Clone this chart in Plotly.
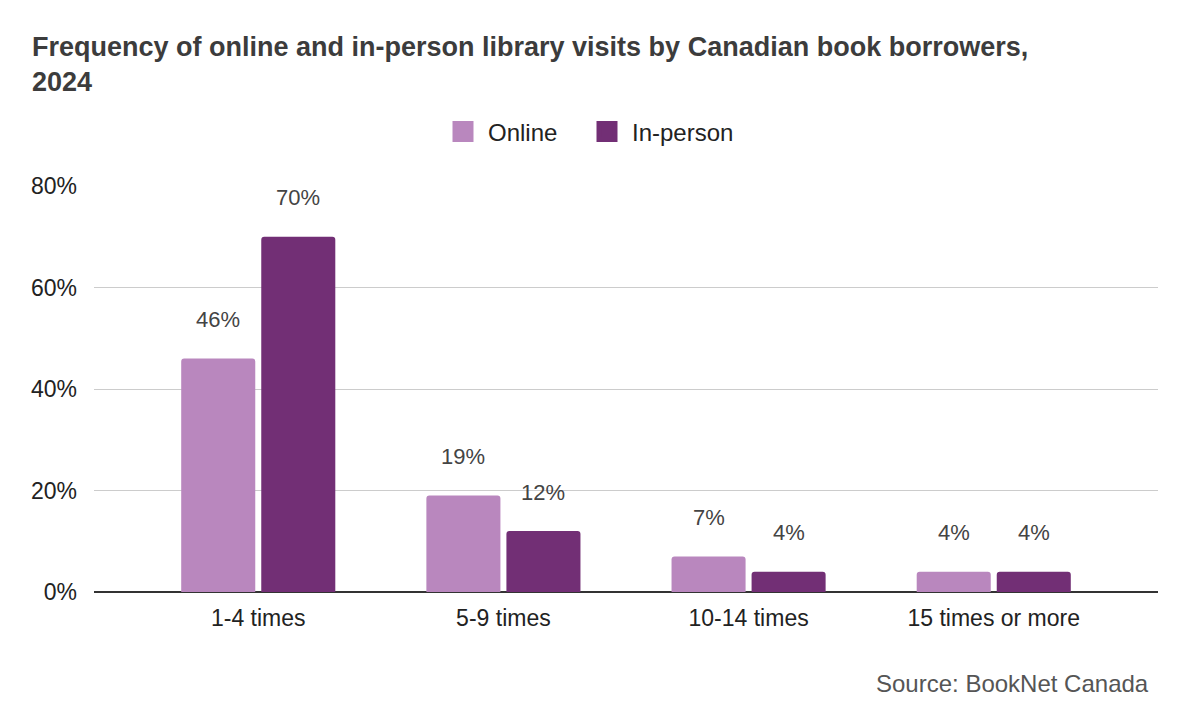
import plotly.graph_objects as go

categories = ['1-4 times', '5-9 times', '10-14 times', '15 times or more']
online = [46, 19, 7, 4]
in_person = [70, 12, 4, 4]

series = [
    ('Online', online, '#B987BE', -40, 'legend'),
    ('In-person', in_person, '#722F75', 40, 'legend2'),
]

legend_style = dict(
    orientation='h',
    xanchor='left',
    y=1.133, yanchor='middle',
    font=dict(size=24, color='#222222'),
    itemsizing='trace',
    itemwidth=40,
)

layout = go.Layout(
    paper_bgcolor='white',
    plot_bgcolor='white',
    width=1187,
    height=725,
    margin=dict(l=94, r=29, t=186, b=133),
    font=dict(family='Liberation Sans, Arial', size=23, color='#222222'),
    title=dict(
        text='<b>Frequency of online and in-person library visits by Canadian book borrowers,<br>2024</b>',
        x=32 / 1187, xref='container', xanchor='left',
        y=1 - 56 / 725, yref='container', yanchor='top',
        font=dict(size=27, color='#3c3c3c'),
    ),
    legend=dict(legend_style, x=(438 - 94) / 1064),
    legend2=dict(legend_style, x=(582 - 94) / 1064),
    barmode='group',
    bargap=0.347,
    bargroupgap=0.075,
    barcornerradius=3,
)

fig = go.Figure(layout=layout)

for name, vals, color, shift, leg in series:
    fig.add_trace(
        go.Bar(
            x=categories,
            y=vals,
            name=name,
            marker_color=color,
            marker_line_width=0,
            hovertext=[f'{v}%' for v in vals],
            hoverinfo='text',
            showlegend=False,
        )
    )
    # bigger square legend swatch than the bar default
    fig.add_trace(
        go.Scatter(
            x=[None], y=[None],
            mode='markers',
            name=name,
            legend=leg,
            marker=dict(symbol='square', size=16, color=color,
                        line=dict(color=color, width=6)),
            hoverinfo='skip',
        )
    )
    # value labels above the bars
    for cat, v in zip(categories, vals):
        fig.add_annotation(
            x=cat, y=v, text=f'{v}%',
            xshift=shift, yshift=39,
            showarrow=False,
            font=dict(size=22, color='#444444'),
        )

fig.add_annotation(
    text='Source: BookNet Canada',
    xref='paper', yref='paper',
    x=(1151 - 94) / 1064, xanchor='right',
    y=-91 / 406, yanchor='middle',
    showarrow=False,
    font=dict(size=24, color='#555555'),
)

fig.update_yaxes(
    range=[0, 80],
    dtick=20,
    ticksuffix='%',
    showgrid=True,
    gridcolor='#cccccc',
    gridwidth=1,
    zeroline=True,
    zerolinecolor='#333333',
    zerolinewidth=2,
    ticklabelstandoff=16,
)
fig.update_xaxes(
    range=[-0.67, 3.67],
    showgrid=False,
    ticks='',
    ticklabelstandoff=10,
)

fig.write_html('out.html', config={'displayModeBar': False},
               post_script="document.body.style.margin = '0';")
